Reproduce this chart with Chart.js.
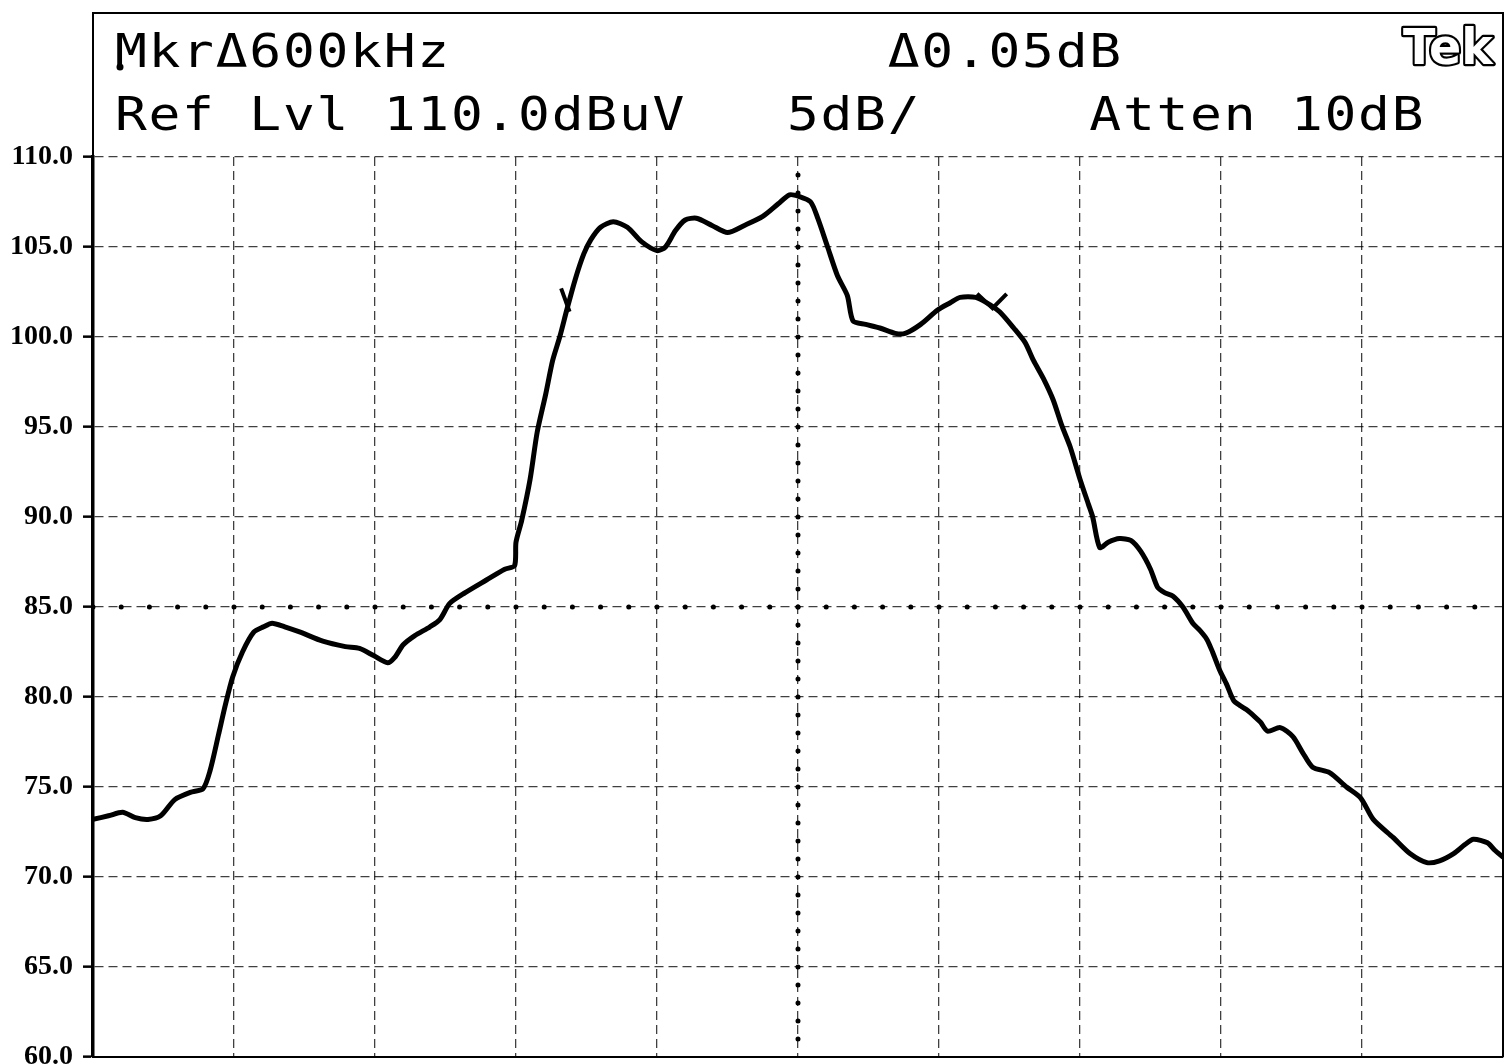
<!DOCTYPE html>
<html>
<head>
<meta charset="utf-8">
<script src="https://cdn.jsdelivr.net/npm/chart.js@4.4.1/dist/chart.umd.min.js"></script>
<style>
  html, body { margin: 0; padding: 0; background: #fff; }
  canvas { display: block; }
</style>
</head>
<body>
<canvas id="spectrum" width="1505" height="1064"></canvas>
<script>
// trace: x in divisions (0..10), level in dBuV
const freqDiv = [
    0.00, 0.11, 0.21, 0.30, 0.39, 0.48, 0.58, 0.69, 0.78, 0.83,
    0.89, 0.94, 0.99, 1.06, 1.14, 1.21, 1.27, 1.36, 1.47, 1.63,
    1.79, 1.89, 1.99, 2.09, 2.14, 2.20, 2.28, 2.39, 2.46, 2.53,
    2.64, 2.79, 2.92, 2.99, 3.00, 3.04, 3.10, 3.15, 3.21, 3.26,
    3.31, 3.36, 3.42, 3.48, 3.53, 3.60, 3.69, 3.79, 3.89, 4.00,
    4.06, 4.13, 4.20, 4.28, 4.39, 4.50, 4.62, 4.75, 4.86, 4.94,
    5.01, 5.09, 5.14, 5.21, 5.28, 5.35, 5.39, 5.48, 5.58, 5.69,
    5.76, 5.87, 5.99, 6.08, 6.15, 6.26, 6.36, 6.43, 6.53, 6.61,
    6.67, 6.74, 6.81, 6.87, 6.93, 7.00, 7.06, 7.09, 7.14, 7.20,
    7.28, 7.36, 7.43, 7.50, 7.55, 7.60, 7.66, 7.73, 7.80, 7.85,
    7.90, 7.94, 7.99, 8.04, 8.09, 8.14, 8.18, 8.24, 8.28, 8.33,
    8.42, 8.51, 8.58, 8.65, 8.77, 8.89, 8.99, 9.08, 9.22, 9.34,
    9.46, 9.55, 9.65, 9.73, 9.79, 9.89, 9.94, 10.00
];
const levelDb = [
    73.2, 73.4, 73.6, 73.3, 73.2, 73.4, 74.3, 74.7, 74.9, 75.9,
    77.9, 79.6, 81.1, 82.5, 83.6, 83.9, 84.1, 83.9, 83.6, 83.1,
    82.8, 82.7, 82.3, 81.9, 82.2, 82.9, 83.4, 83.9, 84.3, 85.2,
    85.8, 86.5, 87.1, 87.3, 88.6, 89.8, 92.1, 94.7, 96.8, 98.7,
    100.0, 101.5, 103.2, 104.6, 105.4, 106.1, 106.4, 106.1, 105.3, 104.8,
    105.0, 105.9, 106.5, 106.6, 106.2, 105.8, 106.2, 106.7, 107.4, 107.9,
    107.8, 107.5, 106.6, 105.0, 103.4, 102.3, 100.9, 100.7, 100.5, 100.2,
    100.2, 100.7, 101.5, 101.9, 102.2, 102.2, 101.8, 101.4, 100.5, 99.7,
    98.7, 97.7, 96.5, 95.1, 93.9, 92.1, 90.7, 90.0, 88.3, 88.6,
    88.8, 88.7, 88.1, 87.1, 86.1, 85.8, 85.6, 85.0, 84.1, 83.7,
    83.2, 82.5, 81.5, 80.7, 79.8, 79.5, 79.3, 78.9, 78.6, 78.1,
    78.3, 77.8, 76.9, 76.1, 75.8, 75.0, 74.4, 73.2, 72.2, 71.3,
    70.8, 70.9, 71.3, 71.8, 72.1, 71.9, 71.5, 71.1
];

// display line and marker line
const displayLineX = [0, 10];
const displayLineY = [85, 85];
const markerLineX = [5, 5];
const markerLineY = [109, 60];

// marker symbols drawn on the trace
const marker1X = [3.32, 3.38];
const marker1Y = [102.7, 101.4];
const marker2X = [6.27, 6.38, 6.48];
const marker2Y = [102.4, 101.6, 102.4];

const yTicks = [60, 65, 70, 75, 80, 85, 90, 95, 100, 105, 110];

const headerLine1 = "Mkr\u0394600kHz             \u03940.05dB";
const headerLine2 = "Ref Lvl 110.0dBuV   5dB/     Atten 10dB";

const toPoints = (xs, ys) => xs.map((x, i) => ({ x: x, y: ys[i] }));

/**
 * Draws the analyser header (frame, readouts, logo)
 */
const headerPlugin = {
    id: "header",
    afterDraw(chart) {
        const ctx = chart.ctx;
        const area = chart.chartArea;
        ctx.save();

        // frame
        ctx.strokeStyle = "#000";
        ctx.lineWidth = 2;
        ctx.beginPath();
        ctx.moveTo(area.left, area.top);
        ctx.lineTo(area.left, 13);
        ctx.lineTo(area.right, 13);
        ctx.lineTo(area.right, area.bottom);
        ctx.stroke();

        // readouts, fixed pitch like the plotter font (glyphs stretched a bit)
        ctx.fillStyle = "#000";
        ctx.font = '46px "DejaVu Sans Mono"';
        ctx.textAlign = "center";
        ctx.textBaseline = "alphabetic";
        const pitch = 33.6;
        const x0 = 114;
        const putChars = (text, y) => {
            [...text].forEach((ch, i) => {
                ctx.save();
                ctx.translate(x0 + i * pitch + pitch / 2, y);
                ctx.scale(1.15, 1);
                ctx.fillText(ch, 0, 0);
                ctx.restore();
            });
        };
        putChars(headerLine1, 67);
        putChars(headerLine2, 130);

        // marker dot
        ctx.beginPath();
        ctx.arc(120, 67, 3.5, 0, Math.PI * 2);
        ctx.fill();

        // Tek logo
        ctx.font = 'bold 50px "DejaVu Sans"';
        ctx.textAlign = "left";
        ctx.lineWidth = 4.5;
        ctx.lineJoin = "round";
        ctx.strokeStyle = "#000";
        ctx.fillStyle = "#fff";
        ctx.save();
        ctx.translate(1403, 64);
        ctx.scale(0.95, 1);
        ctx.strokeText("Tek", 0, 0);
        ctx.fillText("Tek", 0, 0);
        ctx.restore();

        ctx.restore();
    },
};

const drawSpectrum = () => {
    const element = document.getElementById("spectrum");

    const data = {
        datasets: [
            {
                label: "trace",
                data: toPoints(freqDiv, levelDb),
                borderColor: "#000",
                borderWidth: 5,
                pointRadius: 0,
                tension: 0.25,
                borderJoinStyle: "round",
                borderCapStyle: "round",
            },
            {
                label: "display line",
                data: toPoints(displayLineX, displayLineY),
                borderColor: "#000",
                borderWidth: 5,
                borderDash: [0, 28.2],
                borderCapStyle: "round",
                pointRadius: 0,
            },
            {
                label: "marker line",
                data: toPoints(markerLineX, markerLineY),
                borderColor: "#000",
                borderWidth: 5,
                borderDash: [0, 18],
                borderCapStyle: "round",
                pointRadius: 0,
            },
            {
                label: "marker 1",
                data: toPoints(marker1X, marker1Y),
                borderColor: "#000",
                borderWidth: 4,
                pointRadius: 0,
            },
            {
                label: "marker 2",
                data: toPoints(marker2X, marker2Y),
                borderColor: "#000",
                borderWidth: 4,
                pointRadius: 0,
            },
        ],
    };

    const options = {
        responsive: false,
        animation: false,
        layout: {
            padding: { top: 157, right: 2, bottom: 0, left: 0 },
        },
        plugins: {
            legend: { display: false },
            tooltip: { enabled: false },
        },
        scales: {
            x: {
                type: "linear",
                min: 0,
                max: 10,
                ticks: { display: false, stepSize: 1 },
                grid: {
                    color: "rgba(0,0,0,0.75)",
                    lineWidth: 1.3,
                    drawTicks: false,
                },
                border: { display: true, color: "#000", width: 2, dash: [9, 5] },
                afterFit: (scale) => {
                    scale.height = 7;
                    scale.paddingLeft = 0;
                    scale.paddingRight = 0;
                },
            },
            y: {
                min: 60,
                max: 110,
                afterBuildTicks: (scale) => {
                    scale.ticks = yTicks.map((v) => ({ value: v }));
                },
                ticks: {
                    color: "#000",
                    padding: 10,
                    font: { family: "Liberation Serif", size: 28, weight: "bold" },
                    callback: (v) => Number(v).toFixed(1),
                },
                grid: {
                    color: "rgba(0,0,0,0.75)",
                    lineWidth: 1.3,
                    tickLength: 10,
                    tickColor: "#000",
                    tickWidth: 2.5,
                },
                border: { display: true, color: "#000", width: 3.5, dash: [9, 5] },
                afterFit: (scale) => {
                    scale.width = 93;
                    scale.paddingTop = 0;
                    scale.paddingBottom = 0;
                },
            },
        },
    };

    return new Chart(element, {
        type: "line",
        data: data,
        options: options,
        plugins: [headerPlugin],
    });
};

drawSpectrum();
</script>
</body>
</html>
